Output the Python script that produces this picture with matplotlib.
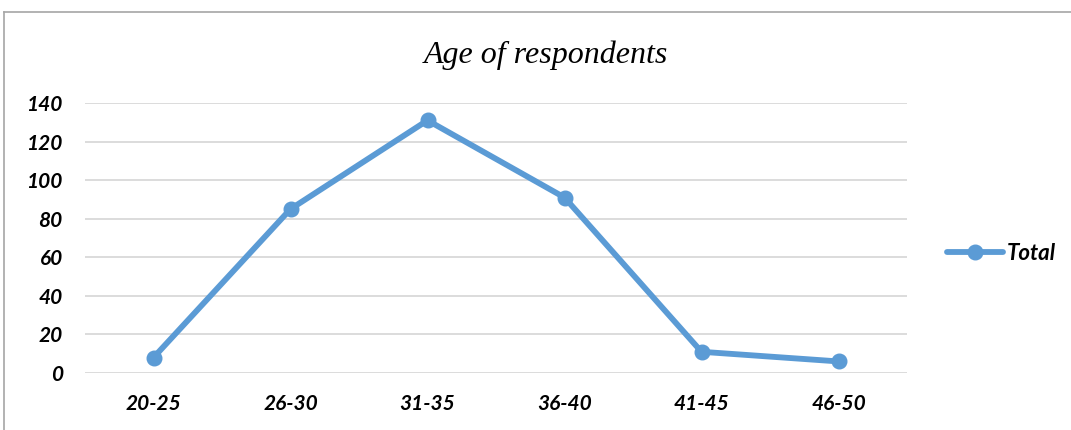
import matplotlib
matplotlib.use("Agg")
from matplotlib import pyplot as plt
from matplotlib.lines import Line2D

# data
age_groups = ["20-25", "26-30", "31-35", "36-40", "41-45", "46-50"]
totals = [8, 85, 131, 91, 11, 6]
y_ticks = [0, 20, 40, 60, 80, 100, 120, 140]

blue = "#5B9BD5"
label_font = ["Lato", "DejaVu Sans"]

fig = plt.figure(figsize=(10.71, 4.30), dpi=100)
ax = fig.add_axes([85 / 1071, 1 - 373 / 430, (907 - 85) / 1071, (373 - 103) / 430])

x = range(len(age_groups))
ax.plot(x, totals, color=blue, linewidth=4.2, marker="o", markersize=10.5,
        label="Total", solid_capstyle="round")

ax.set_xlim(-0.5, len(age_groups) - 0.5)
ax.set_ylim(0, 140)
ax.set_yticks(y_ticks)
ax.set_xticks(list(x))
ax.set_xticklabels(age_groups)
ax.grid(axis="y", color="#D9D9D9", linewidth=1.3)
ax.set_axisbelow(True)
for s in ax.spines.values():
    s.set_visible(False)
ax.tick_params(axis="both", length=0)
ax.tick_params(axis="x", pad=15)
ax.tick_params(axis="y", pad=16)
for lbl in ax.get_xticklabels() + ax.get_yticklabels():
    lbl.set_fontfamily(label_font)
    lbl.set_fontweight("bold")
    lbl.set_fontstyle("italic")
    lbl.set_fontsize(15)

fig.text(546 / 1071, 1 - 55 / 430, "Age of respondents", ha="center", va="center",
         fontfamily="Liberation Serif", fontstyle="italic", fontsize=23)

leg = ax.legend(loc="center left", bbox_to_anchor=(947 / 1071, 1 - 253 / 430),
                bbox_transform=fig.transFigure, frameon=False, borderpad=0,
                borderaxespad=0, handlelength=2.5, handletextpad=0.2,
                prop={"family": label_font, "weight": "bold", "style": "italic", "size": 16})

# chart frame
fig.add_artist(Line2D([4 / 1071, 4 / 1071], [0, 1 - 12 / 430], color="#A6A6A6",
                      linewidth=1.2, transform=fig.transFigure))
fig.add_artist(Line2D([4 / 1071, 1], [1 - 12 / 430, 1 - 12 / 430], color="#A6A6A6",
                      linewidth=1.2, transform=fig.transFigure))

fig.savefig("out.png", dpi=100)
